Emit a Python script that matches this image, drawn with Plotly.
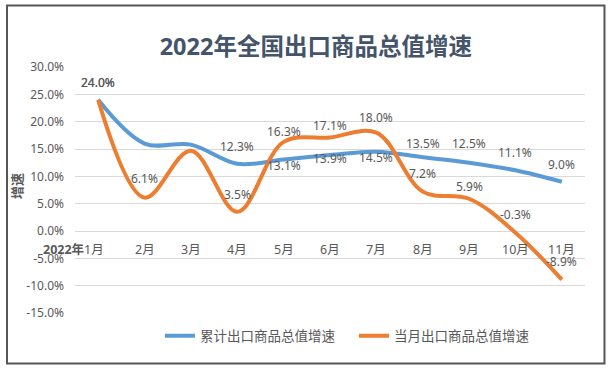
import plotly.graph_objects as go

# ---- data ----
months = ["1月", "2月", "3月", "4月", "5月", "6月", "7月", "8月", "9月", "10月", "11月"]
year_label = "2022年"
cumulative = [24.0, 16.0, 15.8, 12.3, 13.1, 13.9, 14.5, 13.5, 12.5, 11.1, 9.0]
monthly = [24.0, 6.1, 14.7, 3.5, 16.3, 17.1, 18.0, 7.2, 5.9, -0.3, -8.9]
cum_label_shown = [True, False, False, True, True, True, True, True, True, True, True]
mon_label_shown = [True, True, False, True, True, True, True, True, True, True, True]
y_ticks = [-15, -10, -5, 0, 5, 10, 15, 20, 25, 30]
series_names = ["累计出口商品总值增速", "当月出口商品总值增速"]
title_text = "2022年全国出口商品总值增速"
y_title = "增速"

# ---- style ----
BLUE = "#5B9BD5"
ORANGE = "#ED7D31"
TXT = "#595959"
FONT = "Noto Sans, Noto Sans CJK SC"
cum_offsets = [17, 0, 0, 17, -6, -3, -6, 14, 19, 18, 17]
mon_offsets = [17, 19, 0, 17.5, 10, 12, 15.5, 18, 12, 18, 18]

fig = go.Figure()
fig.add_trace(go.Scatter(
    x=months, y=cumulative, mode="lines", name=series_names[0],
    line=dict(color=BLUE, width=4, shape="spline", smoothing=1)))
fig.add_trace(go.Scatter(
    x=months, y=monthly, mode="lines", name=series_names[1],
    line=dict(color=ORANGE, width=4, shape="spline", smoothing=1)))

ann = []
for vals, shown, offs in ((cumulative, cum_label_shown, cum_offsets),
                          (monthly, mon_label_shown, mon_offsets)):
    for m, v, s, o in zip(months, vals, shown, offs):
        if s:
            ann.append(dict(x=m, y=v, xref="x", yref="y", text=f"{v:.1f}%",
                            showarrow=False, yanchor="middle", yshift=o,
                            font=dict(size=12, color=TXT, family=FONT)))

for i, m in enumerate(months):
    if i == 0:
        ann.append(dict(x=m, y=0, xref="x", yref="y",
                        text=f"<b>{year_label}</b>{m}", showarrow=False,
                        xanchor="right", xshift=8, yanchor="middle", yshift=-18.5,
                        font=dict(size=12.5, color=TXT, family=FONT)))
    else:
        ann.append(dict(x=m, y=0, xref="x", yref="y", text=m, showarrow=False,
                        yanchor="middle", yshift=-18.5,
                        font=dict(size=12.5, color=TXT, family=FONT)))

ann.append(dict(x=-0.1137, y=0.516, xref="paper", yref="paper",
                xanchor="center", yanchor="middle",
                text=f"<b>{y_title}</b>", showarrow=False, textangle=-90,
                font=dict(size=13, color=TXT, family=FONT)))

fig.update_layout(
    width=612, height=372,
    margin=dict(l=75, r=27, t=67, b=59),
    paper_bgcolor="white", plot_bgcolor="white",
    title=dict(text=f"<b>{title_text}</b>", x=0.516, xanchor="center",
               y=1 - 47 / 372, yanchor="middle", yref="container",
               font=dict(size=23.5, color="#44546A", family=FONT)),
    xaxis=dict(type="category", categoryorder="array", categoryarray=months,
               range=[-0.5, 10.5], showticklabels=False, showgrid=False,
               zeroline=False, showline=False, ticks=""),
    yaxis=dict(range=[-15, 30], tickvals=y_ticks,
               ticktext=[f"{t:.1f}%" for t in y_ticks],
               showgrid=True, gridcolor="#D9D9D9", gridwidth=1,
               zeroline=False, showline=False, ticks="", ticklabelstandoff=10,
               tickfont=dict(size=12, color=TXT, family=FONT)),
    legend=dict(orientation="h", x=0.547, xanchor="center", y=-0.0935,
                yanchor="middle", font=dict(size=13.5, color=TXT, family=FONT),
                bgcolor="rgba(0,0,0,0)", entrywidth=149, entrywidthmode="pixels"),
    annotations=ann,
    shapes=[dict(type="rect", xref="paper", yref="paper",
                 x0=-0.1333, x1=1.0382, y0=-0.2053, y1=1.25,
                 line=dict(color="#555555", width=2), layer="above")],
    showlegend=True,
)

fig.write_html("out.html", config={"displayModeBar": False},
               post_script="document.body.style.margin='0';document.body.style.overflow='hidden';")
